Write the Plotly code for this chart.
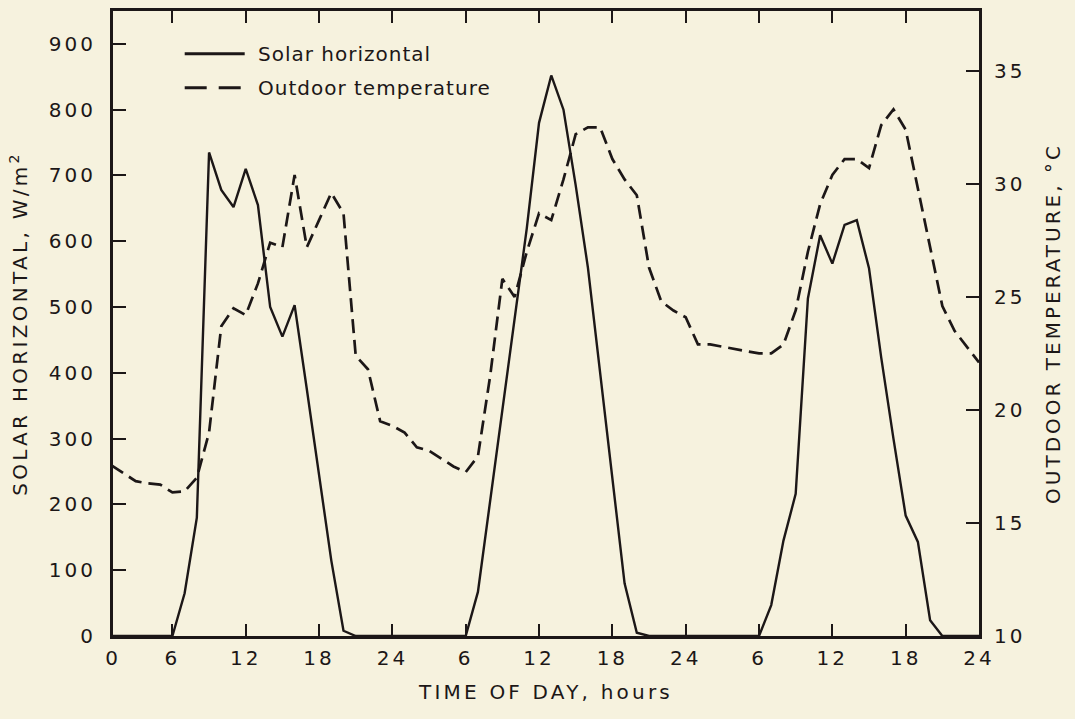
import plotly.graph_objects as go

# ---- data (hourly, hour 1..72 over three days) ----
hours = list(range(1, 73))

solar_wm2 = [
    0, 0, 0, 0, 0, 0, 65, 180, 735, 678, 652, 710, 655, 500, 455, 503, 375, 248, 115, 8, 0,
    0, 0, 0, 0, 0, 0, 0, 0, 0,
    67, 205, 343, 481, 620, 780, 852, 800, 685, 560, 400, 240, 80, 5, 0,
    0, 0, 0, 0, 0, 0, 0, 0, 0,
    47, 145, 216, 513, 609, 566, 625, 632, 559, 423, 300, 183, 143, 24, 0,
    0, 0, 0,
]

outdoor_temp_c = [
    17.55, 17.2, 16.85, 16.75, 16.7, 16.35, 16.4, 17.0, 19.0, 23.7, 24.5, 24.2,
    25.6, 27.4, 27.2, 30.4, 27.2, 28.4, 29.6, 28.7, 22.4, 21.8, 19.5, 19.3,
    19.0, 18.35, 18.2, 17.85, 17.5, 17.25, 17.95, 21.5, 25.8, 25.0, 27.0, 28.7,
    28.4, 30.2, 32.2, 32.5, 32.5, 31.1, 30.2, 29.5, 26.3, 24.8, 24.4, 24.1,
    22.9, 22.9, 22.8, 22.7, 22.6, 22.5, 22.5, 22.9, 24.4, 27.0, 29.1, 30.4,
    31.1, 31.1, 30.7, 32.6, 33.3, 32.4, 29.8, 27.2, 24.6, 23.5, 22.8, 22.1,
]

x_tickvals = [1.14, 6, 12, 18, 24, 30, 36, 42, 48, 54, 60, 66, 72]
x_ticktext = ["0", "6", "12", "18", "24", "6", "12", "18", "24", "6", "12", "18", "24"]
y1_tickvals = [0, 100, 200, 300, 400, 500, 600, 700, 800, 900]
y2_tickvals = [10, 15, 20, 25, 30, 35]

series_names = ["Solar horizontal", "Outdoor temperature"]

# ---- style ----
BG = "#F6F2DE"
INK = "#1C1717"
FONT = "DejaVu Sans"


def sp(s, px):
    return f'<span style="letter-spacing:{px}px">{s}</span>'


fig = go.Figure()
fig.add_trace(go.Scatter(
    x=hours, y=outdoor_temp_c, name=series_names[1], yaxis="y2", mode="lines",
    line=dict(color=INK, width=2.7, dash="14px,7px"), showlegend=False,
))
fig.add_trace(go.Scatter(
    x=hours, y=solar_wm2, name=series_names[0], yaxis="y", mode="lines",
    line=dict(color=INK, width=2.4), showlegend=False,
))

tickfont = dict(family=FONT, size=20, color=INK)

fig.update_layout(
    width=1075, height=719,
    margin=dict(l=113, r=96, t=8, b=83),
    paper_bgcolor=BG, plot_bgcolor=BG,
    showlegend=False,
    xaxis=dict(
        range=[1.14, 72], tickmode="array", tickvals=x_tickvals,
        ticktext=[sp(t, 3) for t in x_ticktext],
        ticks="inside", ticklen=12, tickwidth=2, tickcolor=INK,
        showline=True, linewidth=3, linecolor=INK, mirror="ticks",
        showgrid=False, zeroline=False, tickfont=tickfont, ticklabelstandoff=2,
        title=dict(text=sp("TIME OF DAY, hours", 3.2), font=dict(family=FONT, size=20, color=INK), standoff=16),
    ),
    yaxis=dict(
        range=[0, 950], tickmode="array", tickvals=y1_tickvals,
        ticktext=[sp(str(v), 3) for v in y1_tickvals],
        ticks="inside", ticklen=13, tickwidth=2, tickcolor=INK,
        showline=True, linewidth=3, linecolor=INK, mirror=False,
        showgrid=False, zeroline=False, tickfont=tickfont, ticklabelstandoff=10,
        title=dict(text=sp("SOLAR HORIZONTAL, W/m<sup>2</sup>", 3.3), font=dict(family=FONT, size=20, color=INK), standoff=16),
    ),
    yaxis2=dict(
        range=[10, 37.65], overlaying="y", side="right", tickmode="array",
        tickvals=y2_tickvals, ticktext=[sp(str(v), 3) for v in y2_tickvals],
        ticks="inside", ticklen=13, tickwidth=2, tickcolor=INK,
        showline=True, linewidth=3, linecolor=INK,
        showgrid=False, zeroline=False, tickfont=tickfont, ticklabelstandoff=8,
        title=dict(text=sp("OUTDOOR TEMPERATURE, °C", 3.0), font=dict(family=FONT, size=20, color=INK), standoff=22),
    ),
)

# ---- manual legend (top-left, inside plot) ----
def px_x(p):
    return (p - 113.3) / 866.0


def px_y(p):
    return (636.0 - p) / 628.0


fig.add_shape(type="line", xref="paper", yref="paper",
              x0=px_x(185), x1=px_x(245), y0=px_y(51), y1=px_y(51),
              line=dict(color=INK, width=3))
fig.add_shape(type="line", xref="paper", yref="paper",
              x0=px_x(185), x1=px_x(245), y0=px_y(85), y1=px_y(85),
              line=dict(color=INK, width=3, dash="22px,12px"))
fig.add_annotation(xref="paper", yref="paper", x=px_x(256), y=px_y(51),
                   text=sp(series_names[0], 1), showarrow=False, xanchor="left", yanchor="middle",
                   font=dict(family=FONT, size=20, color=INK))
fig.add_annotation(xref="paper", yref="paper", x=px_x(256), y=px_y(85),
                   text=sp(series_names[1], 1), showarrow=False, xanchor="left", yanchor="middle",
                   font=dict(family=FONT, size=20, color=INK))

fig.write_html("out.html")
